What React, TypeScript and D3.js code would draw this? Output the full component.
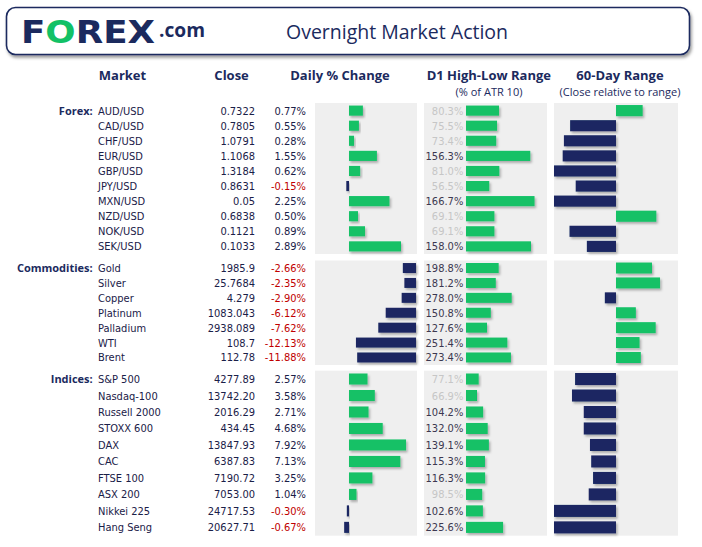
import React from "react";
import * as d3 from "d3";

// ---------- DATA ----------
const sectionLabels = ["Forex:", "Commodities:", "Indices:"];

const forexMarkets = ["AUD/USD", "CAD/USD", "CHF/USD", "EUR/USD", "GBP/USD", "JPY/USD", "MXN/USD", "NZD/USD", "NOK/USD", "SEK/USD"];
const forexClose = ["0.7322", "0.7805", "1.0791", "1.1068", "1.3184", "0.8631", "0.05", "0.6838", "0.1121", "0.1033"];
const forexChange = [0.77, 0.55, 0.28, 1.55, 0.62, -0.15, 2.25, 0.5, 0.89, 2.89];
const forexRange = [80.3, 75.5, 73.4, 156.3, 81.0, 56.5, 166.7, 69.1, 69.1, 158.0];
const forex60Day = [43, -74, -84, -86, -100, -65, -100, 65, -75, -47];

const commodityMarkets = ["Gold", "Silver", "Copper", "Platinum", "Palladium", "WTI", "Brent"];
const commodityClose = ["1985.9", "25.7684", "4.279", "1083.043", "2938.089", "108.7", "112.78"];
const commodityChange = [-2.66, -2.35, -2.9, -6.12, -7.62, -12.13, -11.88];
const commodityRange = [198.8, 181.2, 278.0, 150.8, 127.6, 251.4, 273.4];
const commodity60Day = [58, 71, -18, 32, 64, 38, 40];

const indexMarkets = ["S&P 500", "Nasdaq-100", "Russell 2000", "STOXX 600", "DAX", "CAC", "FTSE 100", "ASX 200", "Nikkei 225", "Hang Seng"];
const indexClose = ["4277.89", "13742.20", "2016.29", "434.45", "13847.93", "6387.83", "7190.72", "7053.00", "24717.53", "20627.71"];
const indexChange = [2.57, 3.58, 2.71, 4.68, 7.92, 7.13, 3.25, 1.04, -0.3, -0.67];
const indexRange = [77.1, 66.9, 104.2, 132.0, 139.1, 115.3, 116.3, 98.5, 102.6, 225.6];
const index60Day = [-66, -71, -52, -52, -42, -40, -37, -44, -100, -100];

// data-bar axis settings per section (like spreadsheet data bars)
const dailyDomains: [number, number][] = [[-1.89, 3.78], [-20.4, 0.2], [-4.72, 9.44]];
const rangeDomainMax = [197, 493, 493];
const dayRangeDomain: [number, number] = [-100, 100];

const headers = ["Market", "Close", "Daily % Change", "D1 High-Low Range", "60-Day Range"];
const subHeaders = ["(% of ATR 10)", "(Close relative to range)"];

// ---------- STYLE / LAYOUT ----------
const W = 702, H = 547;
const NAVY = "#1b2a5e";
const BAR_NAVY = "#1a2862";
const GREEN = "#12c166";
const PANEL = "#efefef";
const TEXT = "#1a2048";
const RED = "#c00000";
const BODY_FONT = "'DejaVu Sans Condensed', 'DejaVu Sans', sans-serif";
const HEAD_FONT = "'Open Sans', sans-serif";

const sectionBands: [number, number][] = [[103, 254], [260.5, 365], [370.7, 535.7]];
const dailyPanel: [number, number] = [315, 417];
const rangePanel: [number, number] = [424, 547];
const rangeBarStart = 466;
const dayPanel: [number, number] = [554, 678];

const sections = [
  { label: sectionLabels[0], markets: forexMarkets, close: forexClose, change: forexChange, range: forexRange, day60: forex60Day },
  { label: sectionLabels[1], markets: commodityMarkets, close: commodityClose, change: commodityChange, range: commodityRange, day60: commodity60Day },
  { label: sectionLabels[2], markets: indexMarkets, close: indexClose, change: indexChange, range: indexRange, day60: index60Day },
];

const headerX = [122.5, 231.6, 340, 488.8, 620];
const subHeaderX = [489, 620];

export default function App() {
  const x60 = d3.scaleLinear().domain(dayRangeDomain).range(dayPanel);

  return (
    <svg width={W} height={H} viewBox={`0 0 ${W} ${H}`} style={{ position: "absolute", left: 0, top: 0, display: "block", background: "#fff" }}>
      <defs>
        <filter id="barShadow" x="-20%" y="-40%" width="140%" height="200%">
          <feDropShadow dx="1.5" dy="2" stdDeviation="1.1" floodColor="#000" floodOpacity="0.28" />
        </filter>
        <filter id="boxShadow" x="-5%" y="-20%" width="110%" height="150%">
          <feDropShadow dx="1.5" dy="2.5" stdDeviation="1.8" floodColor="#000" floodOpacity="0.4" />
        </filter>
      </defs>

      {/* Header box */}
      <rect x={6.5} y={7.5} width={683} height={47} rx={9} ry={9} fill="#fff" stroke={NAVY} strokeWidth={1.6} filter="url(#boxShadow)" />
      <g>
        <text x={21} y={43.3} fontFamily="'DejaVu Sans', sans-serif" fontWeight={700} fontSize={32} textLength={134} lengthAdjust="spacingAndGlyphs">
          <tspan fill={NAVY}>F</tspan>
          <tspan fill={GREEN}>O</tspan>
          <tspan fill={NAVY}>REX</tspan>
        </text>
        <text x={159} y={36.7} fontFamily={HEAD_FONT} fontWeight={700} fontSize={19} fill={NAVY} textLength={46} lengthAdjust="spacingAndGlyphs">.com</text>
      </g>
      <text x={397} y={38.5} textAnchor="middle" fontFamily={HEAD_FONT} fontSize={19.5} fill={NAVY}>Overnight Market Action</text>

      {/* Column headers */}
      {headers.map((h, i) => (
        <text key={h} x={headerX[i]} y={80} textAnchor="middle" fontFamily={HEAD_FONT} fontWeight={700} fontSize={13} fill={NAVY}>{h}</text>
      ))}
      {subHeaders.map((h, i) => (
        <text key={h} x={subHeaderX[i]} y={96} textAnchor="middle" fontFamily={HEAD_FONT} fontSize={11} fill={NAVY}>{h}</text>
      ))}

      {sections.map((s, si) => {
        const y = d3.scaleBand<string>().domain(s.markets).range(sectionBands[si]).paddingInner(0.33).paddingOuter(0.17);
        const xd = d3.scaleLinear().domain(dailyDomains[si]).range(dailyPanel);
        const xr = d3.scaleLinear().domain([0, rangeDomainMax[si]]).range([rangeBarStart, rangePanel[1]]);
        const [y0, y1] = sectionBands[si];
        const bh = y.bandwidth();
        const mid = (m: string) => (y(m) as number) + bh / 2;
        return (
          <g key={s.label}>
            <rect x={dailyPanel[0]} y={y0} width={dailyPanel[1] - dailyPanel[0]} height={y1 - y0} fill={PANEL} />
            <rect x={rangePanel[0]} y={y0} width={rangePanel[1] - rangePanel[0]} height={y1 - y0} fill={PANEL} />
            <rect x={dayPanel[0]} y={y0} width={dayPanel[1] - dayPanel[0]} height={y1 - y0} fill={PANEL} />

            <text x={92.7} y={mid(s.markets[0]) + 4} textAnchor="end" fontFamily={HEAD_FONT} fontWeight={700} fontSize={11} fill={NAVY}>{s.label}</text>

            {s.markets.map((m, i) => {
              const c = s.change[i];
              const r = s.range[i];
              const d = s.day60[i];
              const ty = mid(m) + 4;
              return (
                <g key={m}>
                  <text x={98} y={ty} fontFamily={BODY_FONT} fontSize={11} fill={TEXT}>{m}</text>
                  <text x={255} y={ty} textAnchor="end" fontFamily={BODY_FONT} fontSize={11} fill={TEXT}>{s.close[i]}</text>
                  <text x={306} y={ty} textAnchor="end" fontFamily={BODY_FONT} fontSize={11} fill={c < 0 ? RED : TEXT}>{c.toFixed(2) + "%"}</text>
                  <rect x={Math.min(xd(0), xd(c))} y={y(m)} width={Math.abs(xd(c) - xd(0))} height={bh} fill={c < 0 ? BAR_NAVY : GREEN} filter="url(#barShadow)" />

                  <text x={463.3} y={ty} textAnchor="end" fontFamily={BODY_FONT} fontSize={11} fill={r >= 100 ? "#3c3850" : "#c6c6c6"}>{r.toFixed(1) + "%"}</text>
                  <rect x={xr(0)} y={y(m)} width={xr(r) - xr(0)} height={bh} fill={GREEN} filter="url(#barShadow)" />

                  <rect x={Math.min(x60(0), x60(d))} y={(y(m) as number) - 0.5} width={Math.abs(x60(d) - x60(0))} height={bh + 1} fill={d < 0 ? BAR_NAVY : GREEN} filter="url(#barShadow)" />
                </g>
              );
            })}
          </g>
        );
      })}
    </svg>
  );
}
